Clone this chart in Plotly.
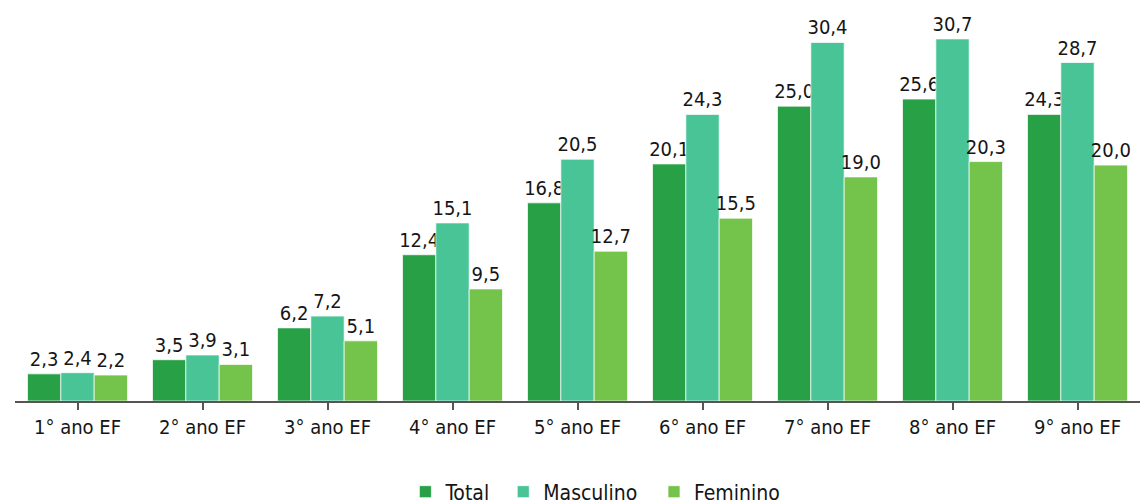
import plotly.graph_objects as go

categories = ["1° ano EF", "2° ano EF", "3° ano EF", "4° ano EF", "5° ano EF",
              "6° ano EF", "7° ano EF", "8° ano EF", "9° ano EF"]
total = [2.3, 3.5, 6.2, 12.4, 16.8, 20.1, 25.0, 25.6, 24.3]
masculino = [2.4, 3.9, 7.2, 15.1, 20.5, 24.3, 30.4, 30.7, 28.7]
feminino = [2.2, 3.1, 5.1, 9.5, 12.7, 15.5, 19.0, 20.3, 20.0]

series_names = ["Total", "Masculino", "Feminino"]
series_values = [total, masculino, feminino]
series_colors = ["#27a046", "#48c496", "#74c34a"]
# one legend per series so the entries can be spaced freely
legend_ids = ["legend", "legend2", "legend3"]
legend_x = [0.347, 0.434, 0.568]

font_family = "DejaVu Sans Condensed, DejaVu Sans, sans-serif"

fig = go.Figure()
for name, values, color, lg in zip(series_names, series_values, series_colors, legend_ids):
    fig.add_trace(go.Bar(
        name=name,
        x=categories,
        y=values,
        marker=dict(color=color, line=dict(color="rgba(255,255,255,0.7)", width=1)),
        text=values,
        texttemplate="%{y:.1f}",
        textposition="outside",
        constraintext="none",
        textfont=dict(size=20, color="#151515", family=font_family),
        cliponaxis=False,
        legend=lg,
    ))

legend_style = dict(
    orientation="h",
    xanchor="left",
    y=-0.227, yanchor="middle",
    font=dict(size=21, color="#151515", family=font_family),
    itemwidth=30,
    bgcolor="rgba(0,0,0,0)",
)

fig.update_layout(
    width=1145,
    height=504,
    margin=dict(l=15, r=5, t=0, b=103, autoexpand=False),
    paper_bgcolor="white",
    plot_bgcolor="white",
    separators=",.",
    barmode="group",
    bargap=0.2,
    bargroupgap=0,
    font=dict(family=font_family, size=20, color="#151515"),
    showlegend=True,
    legend=dict(x=legend_x[0], **legend_style),
    legend2=dict(x=legend_x[1], **legend_style),
    legend3=dict(x=legend_x[2], **legend_style),
    xaxis=dict(
        showline=True, linecolor="#555555", linewidth=2,
        ticks="outside", ticklen=7, tickwidth=2, tickcolor="#555555",
        tickfont=dict(size=20, color="#151515", family=font_family),
        showgrid=False,
    ),
    yaxis=dict(
        range=[0, 34],
        visible=False,
        showgrid=False,
        zeroline=False,
    ),
)

fig.write_html("out.html")
